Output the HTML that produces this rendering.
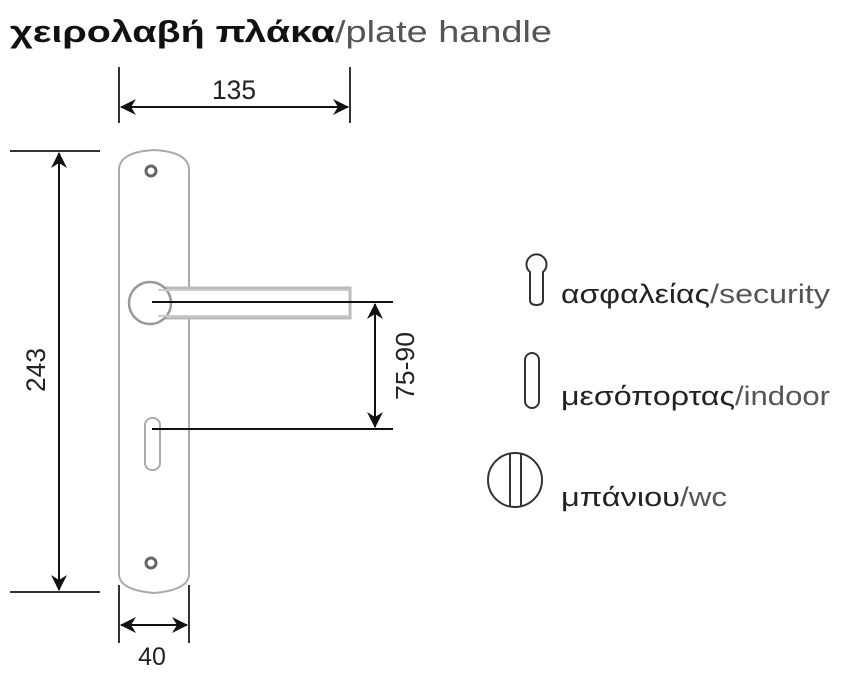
<!DOCTYPE html>
<html><head><meta charset="utf-8"><style>
html,body{margin:0;padding:0;background:#fff;}
svg{display:block;}
text{font-family:"Liberation Sans","DejaVu Sans",sans-serif;}
</style></head><body>
<svg width="855" height="697" viewBox="0 0 855 697" xmlns="http://www.w3.org/2000/svg">
<defs>
<marker id="a" viewBox="0 0 16 16" refX="15" refY="8" markerWidth="16" markerHeight="16" markerUnits="userSpaceOnUse" orient="auto-start-reverse">
<path d="M0,0 L16,8 L0,16 L5,8 Z" fill="#111"/>
</marker>
</defs>
<text x="10" y="42" font-size="31" font-weight="bold" fill="#111" textLength="325" lengthAdjust="spacingAndGlyphs">χειρολαβή πλάκα</text>
<text x="335" y="42" font-size="31" fill="#555" textLength="217" lengthAdjust="spacingAndGlyphs">/plate handle</text>

<!-- 135 -->
<line x1="119" y1="67" x2="119" y2="123" stroke="#333" stroke-width="2"/>
<line x1="350" y1="67" x2="350" y2="123" stroke="#333" stroke-width="2"/>
<line x1="121" y1="107" x2="348" y2="107" stroke="#111" stroke-width="2" marker-start="url(#a)" marker-end="url(#a)"/>
<text x="212" y="99" font-size="27" fill="#222" textLength="44" lengthAdjust="spacingAndGlyphs">135</text>

<!-- 243 -->
<line x1="10" y1="151" x2="100" y2="151" stroke="#333" stroke-width="2"/>
<line x1="10" y1="592" x2="100" y2="592" stroke="#333" stroke-width="2"/>
<line x1="59" y1="153" x2="59" y2="590" stroke="#111" stroke-width="2" marker-start="url(#a)" marker-end="url(#a)"/>
<text transform="translate(45,370) rotate(-90)" font-size="27" text-anchor="middle" fill="#222" textLength="44" lengthAdjust="spacingAndGlyphs">243</text>

<!-- plate -->
<path d="M119,170 Q119,152 154,150 Q189,152 189,170 L189,574 Q189,590 154,593 Q119,590 119,574 Z" fill="#fff" stroke="#aaa" stroke-width="2"/>
<circle cx="151" cy="171" r="5" fill="none" stroke="#666" stroke-width="3"/>
<circle cx="151" cy="563" r="5" fill="none" stroke="#666" stroke-width="3"/>
<rect x="145" y="418" width="15" height="52" rx="7" fill="#fff" stroke="#aaa" stroke-width="2"/>
<!-- lever -->
<path d="M150,288 L350,288 L350,318 L150,318" fill="#fff" stroke="#bbb" stroke-width="3"/>
<circle cx="150" cy="303" r="21" fill="#fff" stroke="#999" stroke-width="2.5"/>
<path d="M158,290 L350,290 M158,316 L350,316" stroke="#ccc" stroke-width="2"/>

<!-- 75-90 -->
<line x1="152" y1="302" x2="393" y2="302" stroke="#111" stroke-width="2"/>
<line x1="152" y1="429" x2="393" y2="429" stroke="#111" stroke-width="2"/>
<line x1="375" y1="304" x2="375" y2="427" stroke="#111" stroke-width="2" marker-start="url(#a)" marker-end="url(#a)"/>
<text transform="translate(414,366) rotate(-90)" font-size="26" text-anchor="middle" fill="#222" textLength="68" lengthAdjust="spacingAndGlyphs">75-90</text>

<!-- 40 -->
<line x1="119" y1="585" x2="119" y2="643" stroke="#333" stroke-width="2"/>
<line x1="189" y1="585" x2="189" y2="643" stroke="#333" stroke-width="2"/>
<line x1="121" y1="625" x2="187" y2="625" stroke="#111" stroke-width="2" marker-start="url(#a)" marker-end="url(#a)"/>
<text x="152" y="665" font-size="25" text-anchor="middle" fill="#222">40</text>

<!-- icons -->
<path d="M530,272 A10,10 0 1 1 543,272 L543,300 Q543,305 536.5,305 Q530,305 530,300 Z" fill="none" stroke="#333" stroke-width="2"/>
<rect x="525" y="353" width="14" height="55" rx="7" fill="none" stroke="#333" stroke-width="2"/>
<circle cx="515" cy="480" r="27" fill="none" stroke="#333" stroke-width="2"/>
<line x1="510" y1="454" x2="510" y2="506" stroke="#333" stroke-width="2"/>
<line x1="521" y1="454" x2="521" y2="506" stroke="#333" stroke-width="2"/>

<text x="561" y="303" font-size="27" fill="#222" textLength="149" lengthAdjust="spacingAndGlyphs">ασφαλείας</text>
<text x="710" y="303" font-size="27" fill="#555" textLength="120" lengthAdjust="spacingAndGlyphs">/security</text>
<text x="561" y="405" font-size="27" fill="#222" textLength="174" lengthAdjust="spacingAndGlyphs">μεσόπορτας</text>
<text x="735" y="405" font-size="27" fill="#555" textLength="95" lengthAdjust="spacingAndGlyphs">/indoor</text>
<text x="561" y="506" font-size="27" fill="#222" textLength="119" lengthAdjust="spacingAndGlyphs">μπάνιου</text>
<text x="680" y="506" font-size="27" fill="#555" textLength="47" lengthAdjust="spacingAndGlyphs">/wc</text>
</svg>
</body></html>
